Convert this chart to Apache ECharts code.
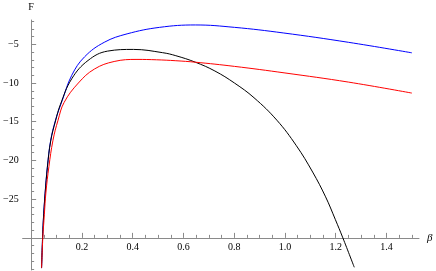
<!DOCTYPE html>
<html>
<head>
<meta charset="utf-8">
<script src="https://cdn.jsdelivr.net/npm/echarts@6/dist/echarts.min.js"></script>
<style>
html,body{margin:0;padding:0;background:#fff;}
#chart{width:436px;height:271px;}
</style>
</head>
<body>
<div id="chart"></div>
<script>
// ---- data ----
const betaBlue = [0.041, 0.045, 0.048, 0.055, 0.064, 0.077, 0.096, 0.122, 0.160, 0.211, 0.288, 0.378, 0.506, 0.647, 0.801, 0.993, 1.25, 1.5];
const fBlue    = [-33.9, -30.0, -27.7, -24.2, -20.8, -17.4, -14.8, -12.3, -9.0, -6.6, -4.74, -3.65, -2.81, -2.50, -2.81, -3.53, -4.74, -6.1];

const betaBlack = [0.041, 0.045, 0.048, 0.055, 0.064, 0.077, 0.096, 0.115, 0.160, 0.224, 0.301, 0.403, 0.518, 0.570, 0.647, 0.724, 0.801, 0.878, 0.968, 1.045, 1.109, 1.160, 1.198, 1.228, 1.273];
const fBlack    = [-33.9, -30.0, -27.8, -24.3, -20.9, -17.5, -14.9, -12.8, -9.45, -7.09, -5.88, -5.66, -6.08, -6.47, -7.31, -8.45, -10.0, -11.9, -14.8, -18.1, -21.5, -24.7, -27.6, -30.0, -33.8];

const betaRed = [0.041, 0.046, 0.052, 0.058, 0.070, 0.086, 0.106, 0.130, 0.186, 0.249, 0.327, 0.417, 0.494, 0.570, 0.647, 0.801, 1.0, 1.25, 1.5];
const fRed    = [-33.9, -30.0, -27.0, -24.2, -20.8, -17.4, -14.8, -12.5, -10.0, -8.2, -7.22, -6.95, -7.0, -7.12, -7.31, -7.85, -8.7, -9.88, -11.3];

const xTickLabels = [0.2, 0.4, 0.6, 0.8, 1.0, 1.2, 1.4];
const yTickLabels = [-25, -20, -15, -10, -5];

// ---- axis setup ----
const xMin = -0.0335, xMax = 1.528;
const yMin = -34.15, yMax = -1.86;
const xCross = -30; // x axis drawn at F = -30
const gridTop = 20, gridBottom = 1, gridLeft = 13, gridRight = 17;
const gridH = 271 - gridTop - gridBottom;

const xMinor = [];
for (let i = 1; i <= 30; i++) { const v = +(i * 0.05).toFixed(2); if (Math.abs(v / 0.2 - Math.round(v / 0.2)) > 1e-6) xMinor.push(v); }
const yMinor = [];
for (let v = -34; v <= -2; v++) { if (v % 5 !== 0) yMinor.push(v); }

const xOffset = -((xCross - yMin) / (yMax - yMin)) * gridH;

const FONT = '"Liberation Serif", "DejaVu Serif", serif';
const AXIS_COLOR = '#8a8a8a';

const zip = (a, b) => a.map((v, i) => [v, b[i]]);

const chart = echarts.init(document.getElementById('chart'), null, {renderer: 'canvas'});
chart.setOption({
  animation: false,
  backgroundColor: '#fff',
  grid: {left: gridLeft, right: gridRight, top: gridTop, bottom: gridBottom, containLabel: false},
  xAxis: [
    {
      type: 'value', min: xMin, max: xMax, position: 'bottom', offset: xOffset,
      name: 'β', nameLocation: 'end', nameGap: 8,
      nameTextStyle: {fontFamily: FONT, fontStyle: 'italic', fontSize: 11, color: '#000', verticalAlign: 'middle'},
      axisLine: {show: true, onZero: false, lineStyle: {color: AXIS_COLOR, width: 1}},
      axisTick: {show: true, inside: true, length: 5, customValues: xTickLabels, lineStyle: {color: AXIS_COLOR}},
      axisLabel: {show: true, customValues: xTickLabels, margin: 5, fontFamily: FONT, fontSize: 10, color: '#000',
                  formatter: v => v.toFixed(1)},
      splitLine: {show: false}
    },
    {
      type: 'value', min: xMin, max: xMax, position: 'bottom', offset: xOffset,
      axisLine: {show: false, onZero: false},
      axisTick: {show: true, inside: true, length: 3, customValues: xMinor, lineStyle: {color: AXIS_COLOR}},
      axisLabel: {show: false},
      splitLine: {show: false}
    }
  ],
  yAxis: [
    {
      type: 'value', min: yMin, max: yMax, position: 'left',
      name: 'F', nameLocation: 'end', nameGap: 8,
      nameTextStyle: {fontFamily: FONT, fontSize: 10, color: '#000'},
      axisLine: {show: true, onZero: true, onZeroAxisIndex: 0, lineStyle: {color: AXIS_COLOR, width: 1}},
      axisTick: {show: true, inside: true, length: 5, customValues: yTickLabels, lineStyle: {color: AXIS_COLOR}},
      axisLabel: {show: true, customValues: yTickLabels, margin: 4, fontFamily: FONT, fontSize: 10, color: '#000',
                  formatter: v => (v < 0 ? '\u2212' : '') + Math.abs(v)},
      splitLine: {show: false}
    },
    {
      type: 'value', min: yMin, max: yMax, position: 'left',
      axisLine: {show: false, onZero: true, onZeroAxisIndex: 0},
      axisTick: {show: true, inside: true, length: 3, customValues: yMinor, lineStyle: {color: AXIS_COLOR}},
      axisLabel: {show: false},
      splitLine: {show: false}
    }
  ],
  series: [
    {type: 'line', data: zip(betaBlue, fBlue), smooth: 0.4, showSymbol: false, clip: true,
     lineStyle: {color: '#0000ff', width: 1}, itemStyle: {color: '#0000ff'}},
    {type: 'line', data: zip(betaBlack, fBlack), smooth: 0.4, showSymbol: false, clip: true,
     lineStyle: {color: '#000000', width: 1}, itemStyle: {color: '#000000'}},
    {type: 'line', data: zip(betaRed, fRed), smooth: 0.4, showSymbol: false, clip: true,
     lineStyle: {color: '#ff0000', width: 1}, itemStyle: {color: '#ff0000'}}
  ]
});
</script>
</body>
</html>
